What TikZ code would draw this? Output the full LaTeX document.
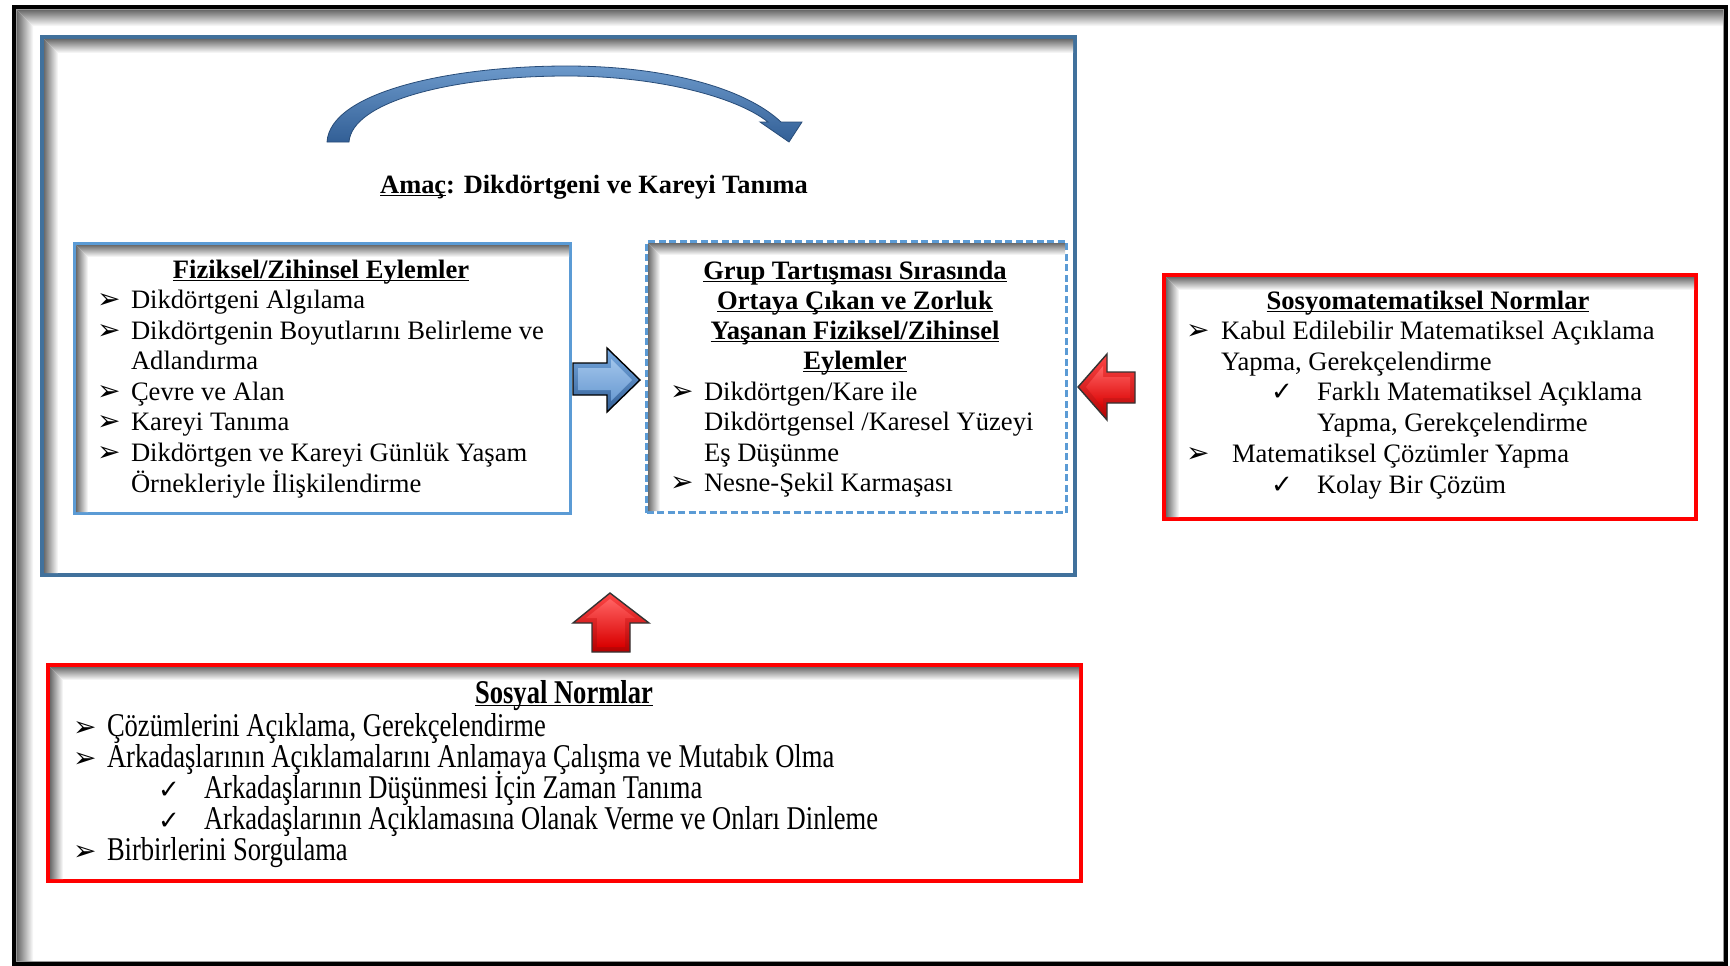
\documentclass[tikz,border=0pt]{standalone}
\usepackage{fontspec}
\setmainfont{Liberation Serif}
\newfontfamily\symfont{DejaVu Sans}
\newfontfamily\narrowfont[FakeStretch=0.8]{Liberation Serif}
\usetikzlibrary{calc}

\definecolor{goalblue}{RGB}{65,113,156}
\definecolor{boxblue}{RGB}{91,155,213}
\definecolor{normred}{RGB}{255,0,0}
\definecolor{arrowlight}{RGB}{120,170,225}
\definecolor{arrowdark}{RGB}{50,95,150}
\definecolor{redlight}{RGB}{255,70,70}
\definecolor{reddark}{RGB}{180,0,0}

% underline drawn at a fixed depth, crossing descenders
\newlength\ulwidth
\newcommand\ulin[1]{\settowidth\ulwidth{#1}\rlap{\rule[-3.2pt]{\ulwidth}{1.7pt}}#1}
\newcommand\arrowglyph{{\symfont\fontsize{28}{28}\selectfont ➢}}
\newcommand\checkglyph{{\symfont\fontsize{26}{26}\selectfont ✓}}
\newcommand\arrowbullet{\makebox[34pt][l]{\arrowglyph}}
\newcommand\checkbullet{\makebox[46pt][l]{\checkglyph}}
\newcommand\bodyfont{\fontsize{26.6}{30.6}\selectfont}
\newcommand\narrowbody{\narrowfont\fontsize{33.2}{31}\selectfont}

% soft inner shadow along the top and left inner edges of a box node,
% two mitred strips with a gradient: #1 node, #2 depth, #3 inset from the outer edge
\newcommand\innershadow[3]{%
  \coordinate (shNW) at ([shift={(#3,-#3)}]#1.north west);
  \coordinate (shNE) at ([shift={(-#3,-#3)}]#1.north east);
  \coordinate (shSW) at ([shift={(#3,#3)}]#1.south west);
  \shade[top color=black!58, middle color=black!20, bottom color=white]
    (shNW) -- (shNE) -- ([yshift=-#2]shNE) -- ([shift={(#2,-#2)}]shNW) -- cycle;
  \shade[left color=black!58, middle color=black!20, right color=white]
    (shNW) -- ([shift={(#2,-#2)}]shNW) -- ([xshift=#2]shSW) -- (shSW) -- cycle;
}

\tikzset{
  framebox/.style={draw=black, line width=4pt, inner sep=0pt, fill=white, anchor=north west},
  goalbox/.style={draw=goalblue, line width=4pt, inner sep=0pt, fill=white, anchor=north west},
  actbox/.style={draw=boxblue, line width=3pt, inner sep=0pt, fill=white, anchor=north west},
  dashbox/.style={actbox, dash pattern=on 7pt off 3.5pt},
  normbox/.style={draw=normred, line width=4pt, inner sep=0pt, fill=white, anchor=north west},
  txt/.style={anchor=base west, inner sep=0pt, outer sep=0pt, font=\bodyfont},
  ntxt/.style={anchor=base west, inner sep=0pt, outer sep=0pt, font=\narrowbody},
  head/.style={anchor=base, inner sep=0pt, outer sep=0pt, font=\bodyfont\bfseries},
  blockblue/.style={top color=arrowlight, bottom color=arrowdark, draw=black, line width=1.4pt, line join=miter},
  blockred/.style={top color=redlight, bottom color=reddark, draw=black!80, line width=1.4pt, line join=miter},
  bevelblue/.style={top color=arrowlight!70!white, bottom color=arrowlight!80!arrowdark},
  bevelred/.style={top color=redlight!85!white, bottom color=normred!85!black},
}

\begin{document}
\begin{tikzpicture}[x=1pt,y=-1pt]
\useasboundingbox (0,0) rectangle (1730,966);

% page frame
\node[framebox, minimum width=1712pt, minimum height=957pt] (frame) at (12,5) {};
\draw[black!40, line width=1.2pt] ([shift={(4.6pt,-4.6pt)}]frame.north west) rectangle ([shift={(-4.6pt,4.6pt)}]frame.south east);
\innershadow{frame}{16pt}{5.2pt}

% goal panel
\node[goalbox, minimum width=1033pt, minimum height=538pt] (goal) at (40,35) {};
\innershadow{goal}{14pt}{4pt}

% cycling arrow above the goal
\shadedraw[top color=arrowlight!90!black, bottom color=arrowdark, draw=arrowdark!80!black, line width=0.8pt]
  (327,142) .. controls (330,92) and (450,66) .. (567,66)
  .. controls (665,66) and (745,88) .. (781,122)
  -- (802,122) -- (789,142) -- (760,122) -- (768,122)
  .. controls (735,96) and (655,76) .. (567,76)
  .. controls (450,76) and (352,102) .. (349,142) -- cycle;

\node[head, font=\fontsize{26.4}{30}\selectfont\bfseries] (goaltitle) at (594,193) {\ulin{Amaç}: Dikdörtgeni ve Kareyi Tanıma};

% physical / mental actions
\node[actbox, minimum width=496pt, minimum height=270pt] (fiz) at (73,242) {};
\innershadow{fiz}{12pt}{3pt}
\node[head] (fizT) at (321,278) {\ulin{Fiziksel/Zihinsel Eylemler}};
\node[txt] (fiz1) at (97,308) {\arrowbullet Dikdörtgeni Algılama};
\node[txt] (fiz2) at (97,339) {\arrowbullet Dikdörtgenin Boyutlarını Belirleme ve};
\node[txt] (fiz3) at (131,369) {Adlandırma};
\node[txt] (fiz4) at (97,400) {\arrowbullet Çevre ve Alan};
\node[txt] (fiz5) at (97,430) {\arrowbullet Kareyi Tanıma};
\node[txt] (fiz6) at (97,461) {\arrowbullet Dikdörtgen ve Kareyi Günlük Yaşam};
\node[txt] (fiz7) at (131,492) {Örnekleriyle İlişkilendirme};

% actions that caused difficulty
\node[dashbox, minimum width=420pt, minimum height=271pt] (grup) at (645,240) {};
\innershadow{grup}{12pt}{3pt}
\node[head] (grupT1) at (855,279) {\ulin{Grup Tartışması Sırasında}};
\node[head] (grupT2) at (855,309) {\ulin{Ortaya Çıkan ve Zorluk}};
\node[head] (grupT3) at (855,339) {\ulin{Yaşanan Fiziksel/Zihinsel}};
\node[head] (grupT4) at (855,369) {\ulin{Eylemler}};
\node[txt] (grup1) at (670,400) {\arrowbullet Dikdörtgen/Kare ile};
\node[txt] (grup2) at (704,430) {Dikdörtgensel /Karesel Yüzeyi};
\node[txt] (grup3) at (704,461) {Eş Düşünme};
\node[txt] (grup4) at (670,491) {\arrowbullet Nesne-Şekil Karmaşası};

% sociomathematical norms
\node[normbox, minimum width=532pt, minimum height=244pt] (sosm) at (1162,273) {};
\innershadow{sosm}{13pt}{4pt}
\node[head] (sosmT) at (1428,309) {\ulin{Sosyomatematiksel Normlar}};
\node[txt] (sosm1) at (1186,339) {\makebox[35pt][l]{\arrowglyph}Kabul Edilebilir Matematiksel Açıklama};
\node[txt] (sosm2) at (1221,370) {Yapma, Gerekçelendirme};
\node[txt] (sosm3) at (1271,400) {\checkbullet Farklı Matematiksel Açıklama};
\node[txt] (sosm4) at (1317,431) {Yapma, Gerekçelendirme};
\node[txt] (sosm5) at (1186,462) {\makebox[46pt][l]{\arrowglyph}Matematiksel Çözümler Yapma};
\node[txt] (sosm6) at (1271,493) {\checkbullet Kolay Bir Çözüm};

% social norms
\node[normbox, minimum width=1033pt, minimum height=216pt] (sos) at (46,663) {};
\innershadow{sos}{13pt}{4pt}
\node[head, font=\narrowbody\bfseries] (sosT) at (564,703) {\ulin{Sosyal Normlar}};
\node[ntxt] (sos1) at (73,736) {\arrowbullet Çözümlerini Açıklama, Gerekçelendirme};
\node[ntxt] (sos2) at (73,767) {\arrowbullet Arkadaşlarının Açıklamalarını Anlamaya Çalışma ve Mutabık Olma};
\node[ntxt] (sos3) at (158,798) {\checkbullet Arkadaşlarının Düşünmesi İçin Zaman Tanıma};
\node[ntxt] (sos4) at (158,829) {\checkbullet Arkadaşlarının Açıklamasına Olanak Verme ve Onları Dinleme};
\node[ntxt] (sos5) at (73,860) {\arrowbullet Birbirlerini Sorgulama};

% block arrows between the panels, each with a bevelled inner face
\path[blockblue] (573,363) -- (607,363) -- (607,348) -- (640,380) -- (607,412) -- (607,395) -- (573,395) -- cycle;
\path[bevelblue] (578,368) -- (611,368) -- (611,359) -- (632,380) -- (611,401) -- (611,390) -- (578,390) -- cycle;
\path[blockred] (1135,372) -- (1107,372) -- (1107,354) -- (1078,387) -- (1107,420) -- (1107,403) -- (1135,403) -- cycle;
\path[bevelred] (1130,377) -- (1103,377) -- (1103,366) -- (1086,387) -- (1103,408) -- (1103,398) -- (1130,398) -- cycle;
\path[blockred] (592,652) -- (592,623) -- (573,623) -- (610,593) -- (649,623) -- (630,623) -- (630,652) -- cycle;
\path[bevelred] (597,647) -- (597,618) -- (586,618) -- (610,599) -- (635,618) -- (625,618) -- (625,647) -- cycle;
\end{tikzpicture}
\end{document}
